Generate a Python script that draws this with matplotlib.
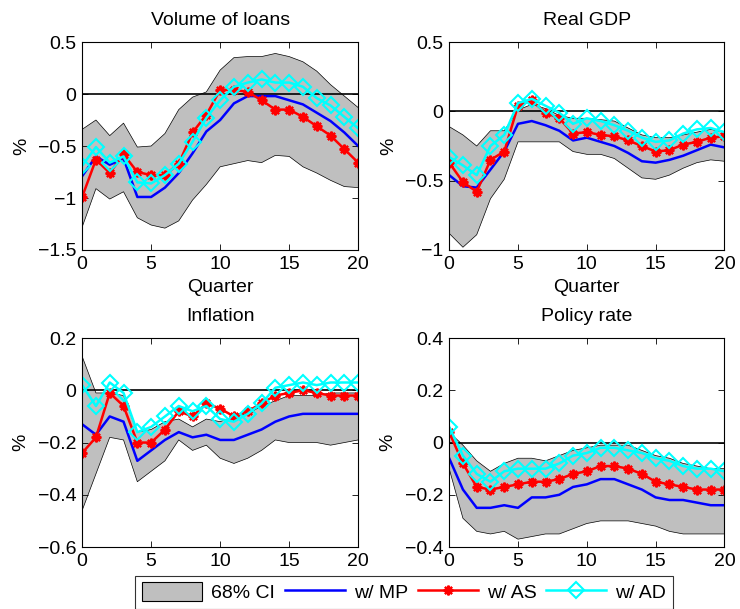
import numpy as np
import matplotlib.pyplot as plt
from matplotlib.patches import Patch
from matplotlib.lines import Line2D

plt.rcParams['font.family'] = ['Liberation Sans', 'DejaVu Sans']
plt.rcParams['font.size'] = 14

quarters = np.arange(21)

# ---------------------------------------------------------------------------
# Data (percent deviation)
# ---------------------------------------------------------------------------

loans_hi = [-0.34, -0.25, -0.40, -0.28, -0.51, -0.50, -0.38, -0.15, -0.03, 0.02, 0.23,
            0.35, 0.36, 0.36, 0.39, 0.36, 0.31, 0.22, 0.09, -0.02, -0.13]
loans_lo = [-1.28, -0.91, -1.01, -0.94, -1.19, -1.26, -1.29, -1.22, -1.02, -0.87, -0.70,
            -0.67, -0.64, -0.66, -0.59, -0.60, -0.70, -0.76, -0.83, -0.89, -0.90]
loans_mp = [-0.79, -0.60, -0.68, -0.62, -0.99, -0.99, -0.90, -0.76, -0.57, -0.36, -0.25,
            -0.09, -0.02, -0.02, -0.02, -0.06, -0.10, -0.18, -0.26, -0.37, -0.50]
loans_as = [-0.99, -0.63, -0.76, -0.58, -0.75, -0.78, -0.78, -0.67, -0.37, -0.20, 0.04,
            0.04, 0.02, -0.06, -0.15, -0.15, -0.22, -0.31, -0.40, -0.53, -0.66]
loans_ad = [-0.69, -0.51, -0.66, -0.60, -0.85, -0.86, -0.78, -0.67, -0.46, -0.23, -0.06,
            0.07, 0.11, 0.14, 0.11, 0.11, 0.07, -0.04, -0.11, -0.22, -0.33]

gdp_hi = [-0.11, -0.17, -0.25, -0.14, -0.14, 0.01, 0.05, 0.02, -0.03, -0.05, -0.05,
          -0.06, -0.07, -0.12, -0.17, -0.19, -0.19, -0.17, -0.15, -0.13, -0.15]
gdp_lo = [-0.88, -0.98, -0.89, -0.63, -0.49, -0.22, -0.22, -0.22, -0.22, -0.29, -0.31,
          -0.31, -0.34, -0.41, -0.48, -0.49, -0.46, -0.41, -0.37, -0.35, -0.36]
gdp_mp = [-0.46, -0.54, -0.55, -0.42, -0.29, -0.09, -0.07, -0.10, -0.14, -0.21, -0.19,
          -0.22, -0.25, -0.30, -0.36, -0.37, -0.35, -0.32, -0.28, -0.24, -0.26]
gdp_as = [-0.37, -0.51, -0.58, -0.35, -0.29, 0.04, 0.08, -0.01, -0.05, -0.16, -0.15,
          -0.17, -0.18, -0.21, -0.25, -0.29, -0.28, -0.24, -0.22, -0.19, -0.18]
gdp_ad = [-0.33, -0.39, -0.46, -0.25, -0.17, 0.06, 0.09, 0.04, -0.01, -0.09, -0.05,
          -0.07, -0.10, -0.14, -0.19, -0.22, -0.21, -0.16, -0.13, -0.12, -0.15]

infl_hi = [0.13, -0.01, -0.01, -0.02, -0.16, -0.15, -0.12, -0.11, -0.14, -0.11, -0.12,
           -0.10, -0.09, -0.06, -0.04, -0.02, -0.02, -0.02, -0.01, -0.01, -0.01]
infl_lo = [-0.46, -0.32, -0.18, -0.19, -0.35, -0.31, -0.27, -0.19, -0.23, -0.21, -0.26,
           -0.28, -0.26, -0.23, -0.19, -0.20, -0.20, -0.20, -0.21, -0.20, -0.19]
infl_mp = [-0.13, -0.17, -0.10, -0.12, -0.27, -0.23, -0.19, -0.16, -0.18, -0.17, -0.19,
           -0.19, -0.17, -0.15, -0.12, -0.10, -0.09, -0.09, -0.09, -0.09, -0.09]
infl_as = [-0.24, -0.18, -0.01, -0.06, -0.20, -0.20, -0.15, -0.08, -0.10, -0.05, -0.07,
           -0.10, -0.08, -0.05, -0.02, -0.01, 0.00, -0.01, -0.02, -0.02, -0.02]
infl_ad = [0.02, -0.06, 0.03, -0.01, -0.16, -0.14, -0.10, -0.06, -0.08, -0.06, -0.11,
           -0.12, -0.09, -0.05, 0.01, 0.02, 0.03, 0.02, 0.03, 0.03, 0.03]

rate_hi = [0.04, -0.01, -0.07, -0.11, -0.08, -0.06, -0.06, -0.07, -0.05, -0.03, -0.02,
           -0.01, -0.01, -0.01, -0.03, -0.05, -0.06, -0.08, -0.09, -0.10, -0.10]
rate_lo = [-0.10, -0.29, -0.34, -0.35, -0.34, -0.37, -0.36, -0.35, -0.35, -0.33, -0.31,
           -0.30, -0.30, -0.30, -0.31, -0.32, -0.34, -0.35, -0.35, -0.35, -0.35]
rate_mp = [-0.06, -0.18, -0.25, -0.25, -0.24, -0.25, -0.21, -0.21, -0.20, -0.17, -0.16,
           -0.14, -0.14, -0.16, -0.18, -0.21, -0.22, -0.22, -0.23, -0.24, -0.24]
rate_as = [0.04, -0.08, -0.17, -0.18, -0.17, -0.16, -0.15, -0.15, -0.14, -0.12, -0.11,
           -0.09, -0.09, -0.10, -0.12, -0.15, -0.16, -0.17, -0.18, -0.18, -0.18]
rate_ad = [0.06, -0.05, -0.12, -0.15, -0.11, -0.10, -0.10, -0.10, -0.08, -0.05, -0.04,
           -0.02, -0.02, -0.03, -0.04, -0.06, -0.07, -0.09, -0.10, -0.10, -0.11]

panels = [
    ("Volume of loans", loans_hi, loans_lo, loans_mp, loans_as, loans_ad,
     (-1.5, 0.5), [-1.5, -1, -0.5, 0, 0.5], ["\u22121.5", "\u22121", "\u22120.5", "0", "0.5"], True),
    ("Real GDP", gdp_hi, gdp_lo, gdp_mp, gdp_as, gdp_ad,
     (-1, 0.5), [-1, -0.5, 0, 0.5], ["\u22121", "\u22120.5", "0", "0.5"], True),
    ("Inflation", infl_hi, infl_lo, infl_mp, infl_as, infl_ad,
     (-0.6, 0.2), [-0.6, -0.4, -0.2, 0, 0.2], ["\u22120.6", "\u22120.4", "\u22120.2", "0", "0.2"], False),
    ("Policy rate", rate_hi, rate_lo, rate_mp, rate_as, rate_ad,
     (-0.4, 0.4), [-0.4, -0.2, 0, 0.2, 0.4], ["\u22120.4", "\u22120.2", "0", "0.2", "0.4"], False),
]

# axes rectangles in figure fractions (left, bottom, width, height)
positions = [
    (0.111, 0.5895, 0.373, 0.3415),
    (0.607, 0.5895, 0.372, 0.3415),
    (0.111, 0.1018, 0.373, 0.343),
    (0.607, 0.1018, 0.372, 0.343),
]

asterisk = (8, 2, 0)
grey = "#bfbfbf"

fig = plt.figure(figsize=(7.4, 6.09), dpi=100)

for pos, (title, hi, lo, mp, as_, ad, ylim, yticks, ylabels, show_xlabel) in zip(positions, panels):
    ax = fig.add_axes(pos)
    ax.fill_between(quarters, lo, hi, facecolor=grey, edgecolor="none")
    ax.plot(quarters, hi, color="black", lw=0.5)
    ax.plot(quarters, lo, color="black", lw=0.5)
    ax.axhline(0, color="black", lw=1.2)
    ax.plot(quarters, mp, color="blue", lw=1.8)
    ax.plot(quarters, as_, color="red", lw=1.8, marker=asterisk, ms=7, mew=1.6)
    ax.plot(quarters, ad, color="cyan", lw=1.8, marker="D", ms=8.5, mfc="none", mew=1.5)
    ax.set_xlim(0, 20)
    ax.set_ylim(*ylim)
    ax.set_xticks([0, 5, 10, 15, 20])
    ax.set_yticks(yticks)
    ax.set_yticklabels(ylabels)
    ax.tick_params(direction="in", top=True, right=True, labelsize=14, length=4, width=0.6,
                   pad=4)
    ax.set_title(title, fontsize=14, pad=12)
    ax.set_ylabel("%", fontsize=14, labelpad=6)
    if show_xlabel:
        ax.set_xlabel("Quarter", fontsize=14, labelpad=5)
    for s in ax.spines.values():
        s.set_linewidth(0.8)

handles = [
    Patch(facecolor=grey, edgecolor="black", lw=0.8),
    Line2D([], [], color="blue", lw=1.8),
    Line2D([], [], color="red", lw=1.8, marker=asterisk, ms=7, mew=1.6),
    Line2D([], [], color="cyan", lw=1.8, marker="D", ms=8.5, mfc="none", mew=1.5),
]
labels = ["68% CI", "w/ MP", "w/ AS", "w/ AD"]
leg = fig.legend(handles, labels, loc="upper center", bbox_to_anchor=(0.546, 0.055),
                 ncol=4, fontsize=14, frameon=True, fancybox=False, edgecolor="black",
                 handlelength=3.1, handleheight=1.1, columnspacing=0.5, handletextpad=0.45,
                 borderpad=0.35, borderaxespad=0.0)
leg.get_frame().set_linewidth(0.8)

fig.savefig("out.png", dpi=100)
